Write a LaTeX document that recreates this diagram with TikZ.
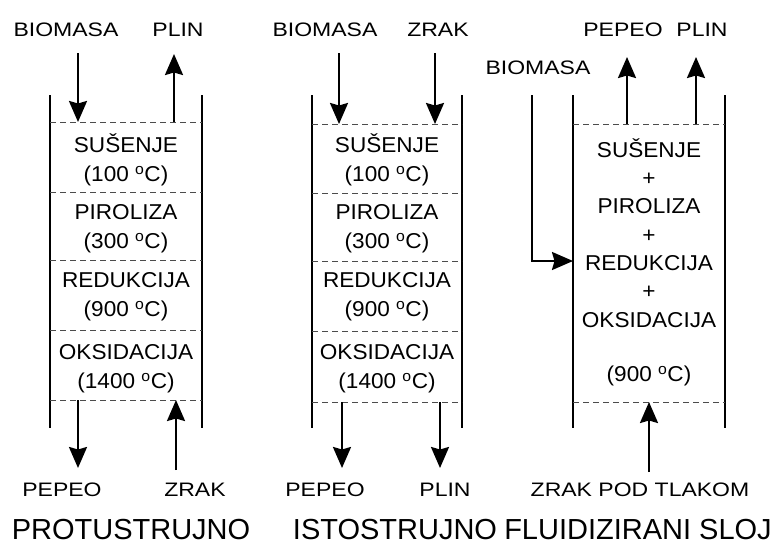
\documentclass[tikz,border=0pt]{standalone}
\usepackage{fontspec}
\setmainfont{Liberation Sans}
\usetikzlibrary{arrows.meta}
\newcommand{\stup}[1]{(#1 \textsuperscript{o}C)}

\begin{document}
\begin{tikzpicture}[x=1pt,y=-1pt,inner sep=0pt,outer sep=0pt,
wall/.style={line width=2.8pt},
zone/.style={gray!60!black,line width=1pt,dash pattern=on 6pt off 4pt},
flow/.style={line width=2.3pt,-{Stealth[length=21pt,width=18pt,inset=2.5pt]}},
lbl/.style={font=\fontsize{19.5}{19.5}\selectfont,xscale=1.18,transform shape},
stage/.style={font=\fontsize{21.5}{29}\selectfont,align=center,xscale=1.05,transform shape},
title/.style={font=\fontsize{29}{29}\selectfont}]
\useasboundingbox (0,0) rectangle (776,546);

% protustrujno
\draw[wall] (50,95) -- (50,428);
\draw[wall] (202,95) -- (202,428);
\foreach \y in {122,192,260,330,400} \draw[zone] (50,\y) -- (202,\y);
\draw (126,160) node[stage] (s1) {SUŠENJE\\\stup{100}};
\draw (126,229) node[stage] (p1) {PIROLIZA\\\stup{300}};
\draw (126,297) node[stage] (r1) {REDUKCIJA\\\stup{900}};
\draw (126,369) node[stage] (o1) {OKSIDACIJA\\\stup{1400}};
\draw (66,30) node[lbl] (bio1) {BIOMASA};
\draw (178,30) node[lbl] (plin1) {PLIN};
\draw (62,490) node[lbl] (pep1) {PEPEO};
\draw (195,490) node[lbl] (zrak1) {ZRAK};
\draw (131,530) node[title] (t1) {PROTUSTRUJNO};
\coordinate (bio1in) at (78,122);
\coordinate (plin1out) at (174,122);
\coordinate (pep1out) at (78,400);
\coordinate (zrak1in) at (176,400);
\draw[flow] (78,53) -- (bio1in);
\draw[flow] (plin1out) -- (174,54);
\draw[flow] (pep1out) -- (78,468);
\draw[flow] (176,470) -- (zrak1in);

% istostrujno
\draw[wall] (312,95) -- (312,428);
\draw[wall] (462,95) -- (462,428);
\foreach \y in {124,193,261,331,402} \draw[zone] (312,\y) -- (462,\y);
\draw (387,160) node[stage] (s2) {SUŠENJE\\\stup{100}};
\draw (387,229) node[stage] (p2) {PIROLIZA\\\stup{300}};
\draw (387,297) node[stage] (r2) {REDUKCIJA\\\stup{900}};
\draw (387,369) node[stage] (o2) {OKSIDACIJA\\\stup{1400}};
\draw (325,30) node[lbl] (bio2) {BIOMASA};
\draw (438,30) node[lbl] (zrak2) {ZRAK};
\draw (325,490) node[lbl] (pep2) {PEPEO};
\draw (445,490) node[lbl] (plin2) {PLIN};
\draw (395,530) node[title] (t2) {ISTOSTRUJNO};
\coordinate (bio2in) at (339,124);
\coordinate (zrak2in) at (435,124);
\coordinate (pep2out) at (342,402);
\coordinate (plin2out) at (440,402);
\draw[flow] (339,53) -- (bio2in);
\draw[flow] (435,53) -- (zrak2in);
\draw[flow] (pep2out) -- (342,468);
\draw[flow] (plin2out) -- (440,468);

% fluidizirani sloj
\draw[wall] (573,95) -- (573,428);
\draw[wall] (725,95) -- (725,428);
\foreach \y in {124,402} \draw[zone] (573,\y) -- (725,\y);
\draw (649,233) node[stage,font=\fontsize{21.5}{28.3}\selectfont] (all3)
  {SUŠENJE\\+\\PIROLIZA\\+\\REDUKCIJA\\+\\OKSIDACIJA};
\draw (649,376) node[stage] (tmp3) {\stup{900}};
\draw (538,68) node[lbl] (bio3) {BIOMASA};
\draw (623,30) node[lbl] (pep3) {PEPEO};
\draw (702,30) node[lbl] (plin3) {PLIN};
\draw (640,490) node[lbl] (zrak3) {ZRAK POD TLAKOM};
\draw (638,530) node[title] (t3) {FLUIDIZIRANI SLOJ};
\coordinate (bio3in) at (573,261);
\coordinate (pep3out) at (627,124);
\coordinate (plin3out) at (696,124);
\coordinate (zrak3in) at (649,402);
\draw[flow] (532,95) |- (bio3in);
\draw[flow] (pep3out) -- (627,57);
\draw[flow] (plin3out) -- (696,57);
\draw[flow] (649,472) -- (zrak3in);
\end{tikzpicture}
\end{document}
